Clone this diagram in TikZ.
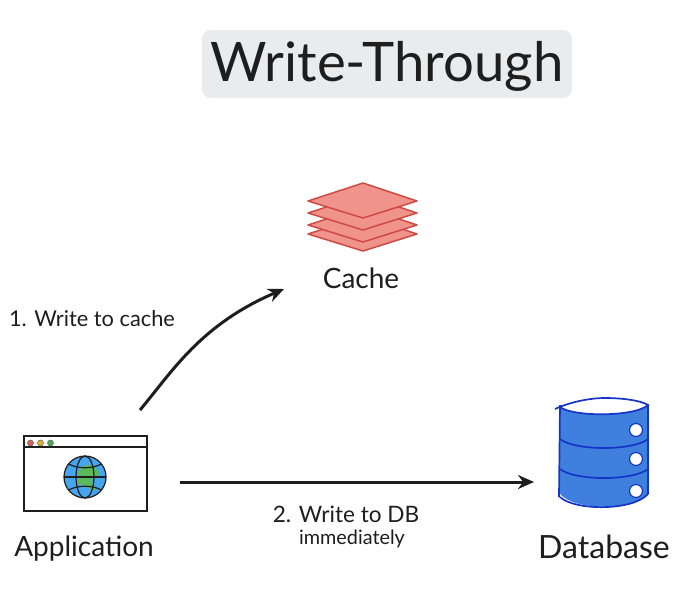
\documentclass[tikz,border=0pt]{standalone}
\usepackage{fontspec}
\setmainfont{Lato}
\usetikzlibrary{arrows.meta}
\definecolor{ink}{HTML}{1E1E1E}
\definecolor{titlebg}{HTML}{E9ECEF}
\definecolor{layerfill}{HTML}{F0938B}
\definecolor{layerline}{HTML}{CF4A44}
\definecolor{dbfill}{HTML}{3F80DE}
\definecolor{dbline}{HTML}{1535C8}
\definecolor{globeblue}{HTML}{45A5EE}
\definecolor{globegreen}{HTML}{5CB85C}
\definecolor{dotred}{HTML}{D9625F}
\definecolor{dotyellow}{HTML}{E3AE35}
\definecolor{dotgreen}{HTML}{4FA85A}
\tikzset{
  lbl/.style={inner sep=0pt,text=ink},
  flow/.style={draw=ink,line width=3pt,-{Stealth[length=16pt,width=14pt]}},
  layer/.style={fill=layerfill,draw=layerline,line width=1.5pt,line join=round},
  dbband/.style={draw=dbline,line width=1.7pt},
  dbhole/.style={circle,fill=white,draw=dbline,line width=1.2pt,minimum size=13pt,inner sep=0pt},
  windot/.style={circle,draw=ink!70,line width=.5pt,minimum size=6pt,inner sep=0pt},
  win/.style={draw=ink,line width=1.3pt,fill=white,minimum width=123pt,minimum height=75pt,inner sep=0pt}
}
\begin{document}
\begin{tikzpicture}[x=1pt,y=-1pt]
\useasboundingbox (0,0) rectangle (694,614);
\fill[white] (0,0) rectangle (694,614);
% title
\node[fill=titlebg,rounded corners=9pt,minimum width=370pt,minimum height=68pt,inner sep=0pt] (titlebox) at (387,64) {};
\node[lbl,font=\fontsize{54.5}{60}\selectfont] (title) at (387,66) {Write-Through};
% cache
\foreach \d in {33,24,12,0}{
  \draw[layer] (308,201+\d) -- (363,183+\d) -- (417,201+\d) -- (363,218+\d) -- cycle;
}
\node[lbl,font=\fontsize{28}{30}\selectfont] (cache) at (361,278) {Cache};
% application
\node[win] (window) at (85.5,473.5) {};
\draw[ink,line width=1.5pt] (24,447) -- (147,447);
\node[windot,fill=dotred] (d1) at (30.5,443) {};
\node[windot,fill=dotyellow] (d2) at (40.5,443) {};
\node[windot,fill=dotgreen] (d3) at (50.5,443) {};
\node[circle,fill=globeblue,minimum size=42pt,inner sep=0pt] (globe) at (85,477) {};
\fill[globegreen] (80,468) .. controls (88,462) and (95,466) .. (100,473)
  .. controls (98,477) and (93,476) .. (92,480)
  .. controls (92,485) and (96,487) .. (95,491)
  .. controls (90,490) and (84,484) .. (78,484)
  .. controls (76,478) and (78,472) .. (80,468) -- cycle;
\draw[ink,line width=1.2pt] (85,477) circle[radius=21];
\draw[ink,line width=1.2pt] (85,477) ellipse[x radius=9,y radius=21];
\draw[ink,line width=1.2pt] (64,477) -- (106,477);
\draw[ink,line width=1.2pt] (68.5,464) .. controls (78,469) and (92,469) .. (101.5,464);
\draw[ink,line width=1.2pt] (68.5,490) .. controls (78,485) and (92,485) .. (101.5,490);
\node[lbl,font=\fontsize{28}{32}\selectfont] (app) at (84,549) {Application};
% database
\path[fill=dbfill] (560,405) -- (560,494) .. controls (575,511) and (633,511) .. (648,494) -- (648,405) -- cycle;
\draw[dbband,line join=round] (559,497) -- (560,405) (648,405) -- (648,494) .. controls (633,511) and (575,511) .. (560,497);
\draw[dbband,fill=white] (555,409) .. controls (570,402) and (590,398) .. (605,398) .. controls (620,398) and (640,400) .. (648,405)
  .. controls (635,417) and (573,417) .. (560,407);
\draw[dbband] (560,439) .. controls (575,451) and (633,451) .. (648,439);
\draw[dbband] (560,469) .. controls (575,481) and (633,481) .. (648,469);
\node[dbhole] (h1) at (636,430) {};
\node[dbhole] (h2) at (636,459) {};
\node[dbhole] (h3) at (636,491) {};
\coordinate (dbin) at (534,482);
\node[lbl,font=\fontsize{32}{34}\selectfont] (db) at (604,547) {Database};
% connectors
\coordinate (appout) at (140,410);
\coordinate (cachein) at (284,289);
\coordinate (appright) at (180,482);
\draw[flow] (appout) .. controls (172,372) and (200,325) .. (cachein);
\draw[flow] (appright) -- (dbin);
% labels
\node[lbl,font=\fontsize{21.8}{24}\selectfont] (l1) at (92,319) {1. Write to cache};
\node[lbl,font=\fontsize{22.6}{24}\selectfont] (l2) at (346,514) {2. Write to DB};
\node[lbl,font=\fontsize{19.8}{22}\selectfont] (l3) at (352,539) {immediately};
\end{tikzpicture}
\end{document}
